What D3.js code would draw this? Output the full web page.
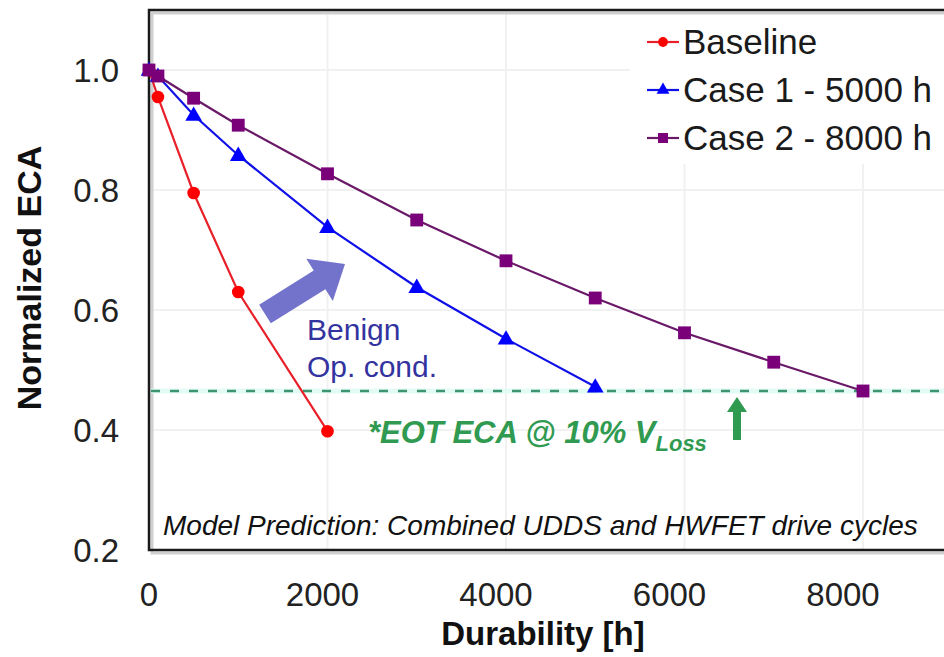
<!DOCTYPE html>
<html>
<head>
<meta charset="utf-8">
<script src="https://cdn.jsdelivr.net/npm/d3@7"></script>
<style>
  body { margin: 0; background: #fff; }
  svg { display: block; font-family: "Liberation Sans", Arial, sans-serif; }
</style>
</head>
<body>
<svg></svg>
<script>
var width = 944;
var height = 657;

// data
var baselineHours = [0, 100, 500, 1000, 2000];
var baselineECA = [1.0, 0.955, 0.795, 0.63, 0.398];
var case1Hours = [0, 100, 500, 1000, 2000, 3000, 4000, 5000];
var case1ECA = [1.0, 0.99, 0.925, 0.858, 0.738, 0.638, 0.552, 0.472];
var case2Hours = [0, 100, 500, 1000, 2000, 3000, 4000, 5000, 6000, 7000, 8000];
var case2ECA = [1.0, 0.99, 0.953, 0.908, 0.827, 0.75, 0.682, 0.62, 0.562, 0.513, 0.465];
var seriesNames = ["Baseline", "Case 1 - 5000 h", "Case 2 - 8000 h"];
var xTicks = [0, 2000, 4000, 6000, 8000];
var yTicks = [0.2, 0.4, 0.6, 0.8, 1.0];
var eotECA = 0.465;

var series = [
    { name: seriesNames[0], hours: baselineHours, eca: baselineECA, color: "#ff0000", line: "#e8202a", symbol: d3.symbolCircle, size: 125 },
    { name: seriesNames[1], hours: case1Hours, eca: case1ECA, color: "#0000ff", line: "#1010e8", symbol: d3.symbolTriangle, size: 120 },
    { name: seriesNames[2], hours: case2Hours, eca: case2ECA, color: "#7a007a", line: "#6a1868", symbol: d3.symbolSquare, size: 165 }
];

// plot box (names avoid window.top)
var boxL = 149, boxT = 10, boxB = 550, boxR = width;

var x = d3.scaleLinear().domain([0, 8000]).range([149, 863]);
// the tick labels in the picture sit a little left of their grid lines
var xLabel = d3.scaleLinear().domain([0, 8000]).range([149, 843]);
var y = d3.scaleLinear().domain([0.2, 1.0]).range([550, 70]);

var svg = d3.select("svg")
            .attr("width", width)
            .attr("height", height);

// grid
var grid = svg.append("g");
grid.selectAll(".vgrid")
    .data(xTicks.slice(1))
    .enter().append("line")
        .attr("x1", d => x(d)).attr("x2", d => x(d))
        .attr("y1", boxT).attr("y2", boxB)
        .attr("stroke", "#f1f1f1").attr("stroke-width", 2);
grid.selectAll(".hgrid")
    .data(yTicks.slice(1))
    .enter().append("line")
        .attr("x1", boxL).attr("x2", boxR)
        .attr("y1", d => y(d)).attr("y2", d => y(d))
        .attr("stroke", "#f1f1f1").attr("stroke-width", 2);

// legend background hides the grid
svg.append("rect")
    .attr("x", 630).attr("y", boxT + 2)
    .attr("width", boxR - 630).attr("height", 152)
    .attr("fill", "#fff");

// frame with a soft shadow
svg.append("path")
    .attr("d", "M" + boxR + "," + (boxT + 3) + "H" + (boxL + 3) + "V" + (boxB + 3) + "H" + boxR)
    .attr("fill", "none").attr("stroke", "#cfcfcf").attr("stroke-width", 3);
svg.append("path")
    .attr("d", "M" + boxR + "," + boxT + "H" + boxL + "V" + boxB + "H" + boxR)
    .attr("fill", "none").attr("stroke", "#1a1a1a").attr("stroke-width", 2.5);

// EOT dashed line
svg.append("line")
    .attr("x1", boxL + 2).attr("x2", boxR)
    .attr("y1", y(eotECA)).attr("y2", y(eotECA))
    .attr("stroke", "#e3fbf5").attr("stroke-width", 5);
svg.append("line")
    .attr("x1", boxL + 2).attr("x2", boxR)
    .attr("y1", y(eotECA)).attr("y2", y(eotECA))
    .attr("stroke", "#3d9470").attr("stroke-width", 2.5)
    .attr("stroke-dasharray", "9,10");

// series
var line = d3.line().x(d => x(d[0])).y(d => y(d[1]));
series.forEach(function(s) {
    var pts = s.hours.map((h, i) => [h, s.eca[i]]);
    svg.append("path")
        .datum(pts)
        .attr("d", line)
        .attr("fill", "none")
        .attr("stroke", s.line)
        .attr("stroke-width", 2.2);
    svg.selectAll(null)
        .data(pts)
        .enter().append("path")
            .attr("d", d3.symbol().type(s.symbol).size(s.size))
            .attr("transform", d => "translate(" + x(d[0]) + "," + (y(d[1]) + (s.symbol === d3.symbolTriangle ? 1 : 0)) + ")")
            .attr("fill", s.color);
});

// tick labels
svg.selectAll(".xt")
    .data(xTicks)
    .enter().append("text")
        .attr("x", d => xLabel(d)).attr("y", 606)
        .attr("text-anchor", "middle")
        .style("font-size", "33px").attr("fill", "#222")
        .text(d => d);
svg.selectAll(".yt")
    .data(yTicks)
    .enter().append("text")
        .attr("x", 119).attr("y", d => y(d) + 12)
        .attr("text-anchor", "end")
        .style("font-size", "33px").attr("fill", "#222")
        .text(d => d.toFixed(1));

// axis titles
svg.append("text")
    .attr("x", 543).attr("y", 645)
    .attr("text-anchor", "middle")
    .style("font-size", "33px").style("font-weight", "bold").attr("fill", "#111")
    .text("Durability [h]");
svg.append("text")
    .attr("transform", "translate(41,278) rotate(-90)")
    .attr("text-anchor", "middle")
    .style("font-size", "34px").style("font-weight", "bold").attr("fill", "#111")
    .text("Normalized ECA");

// legend
var legend = svg.append("g");
series.forEach(function(s, i) {
    var ly = 42 + i * 48;
    legend.append("line")
        .attr("x1", 647).attr("x2", 679)
        .attr("y1", ly).attr("y2", ly)
        .attr("stroke", s.line).attr("stroke-width", 2.2);
    legend.append("path")
        .attr("d", d3.symbol().type(s.symbol).size(s.size * 0.6))
        .attr("transform", "translate(663," + ly + ")")
        .attr("fill", s.color);
    legend.append("text")
        .attr("x", 683).attr("y", ly + 12)
        .style("font-size", "35px").attr("fill", "#1a1a1a")
        .text(s.name);
});

// benign arrow
var ax0 = 265, ay0 = 314, ax1 = 345, ay1 = 264;
var ang = Math.atan2(ay1 - ay0, ax1 - ax0) * 180 / Math.PI;
var len = Math.hypot(ax1 - ax0, ay1 - ay0);
svg.append("path")
    .attr("transform", "translate(" + ax0 + "," + ay0 + ") rotate(" + ang + ")")
    .attr("d", "M0,-11 L" + (len - 30) + ",-11 L" + (len - 30) + ",-25 L" + len + ",0 L" + (len - 30) + ",25 L" + (len - 30) + ",11 L0,11 Z")
    .attr("fill", "#7373cc");
svg.append("text")
    .attr("x", 307).attr("y", 340)
    .style("font-size", "30px").attr("fill", "#3333a0")
    .text("Benign");
svg.append("text")
    .attr("x", 307).attr("y", 377)
    .style("font-size", "30px").attr("fill", "#3333a0")
    .text("Op. cond.");

// EOT label and arrow
var eot = svg.append("text")
    .attr("x", 368).attr("y", 443)
    .style("font-size", "31px").style("font-weight", "bold").style("font-style", "italic")
    .attr("fill", "#2f9a50");
eot.append("tspan").text("*EOT ECA @ 10% V");
eot.append("tspan").attr("dy", 8).style("font-size", "22px").text("Loss");

svg.append("path")
    .attr("d", "M733,440 V412 H727 L737,397 L747,412 H741 V440 Z")
    .attr("fill", "#2f9a50");

// model note
svg.append("text")
    .attr("x", 163).attr("y", 535)
    .style("font-size", "28px").style("font-style", "italic").attr("fill", "#111")
    .text("Model Prediction: Combined UDDS and HWFET drive cycles");
</script>
</body>
</html>
